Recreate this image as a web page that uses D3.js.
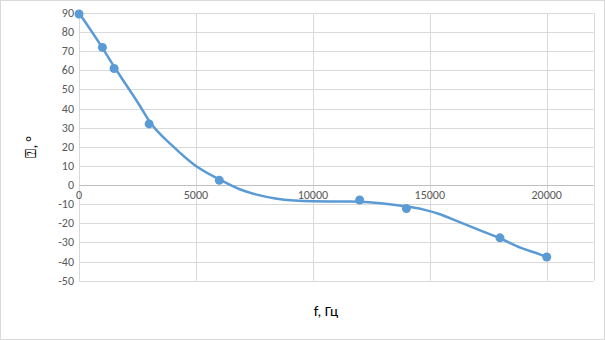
<!DOCTYPE html>
<html>
<head>
<meta charset="utf-8">
<script src="https://cdn.jsdelivr.net/npm/d3@7"></script>
<style>
  body { margin: 0; background: #fff; }
  svg { display: block; font-family: Calibri, Carlito, "Open Sans", sans-serif; }
</style>
</head>
<body>
<svg id="chart" width="605" height="340"></svg>
<script>
const freq  = [0, 1000, 1500, 3000, 6000, 12000, 14000, 18000, 20000];
const phase = [89.5, 72, 61, 32, 2.5, -7.8, -12.3, -27.6, -37.6];

// trend curve
const trendFreq  = [0, 1000, 1500, 2600, 3000, 4000, 5000, 6000, 6900, 7600, 8400, 9200, 10000,
                    11500, 12000, 12900, 13700, 14700, 15400, 16200, 17100, 18000, 18900, 19700, 20000];
const trendPhase = [90, 71.8, 62, 41.5, 33.5, 20.5, 10, 3, -2.3, -5, -7, -8.1, -8.5,
                    -8.6, -8.7, -9.5, -10.7, -12.7, -15.1, -19, -23.4, -27.8, -32.8, -36.2, -37.6];

const xTicks = [0, 5000, 10000, 15000, 20000];
const yTicks = [90, 80, 70, 60, 50, 40, 30, 20, 10, 0, -10, -20, -30, -40, -50];

const svg = d3.select("#chart");
const W = +svg.attr("width"), H = +svg.attr("height");

// outer chart frame
svg.append("rect")
  .attr("x", 0.5).attr("y", 0.5)
  .attr("width", W - 1).attr("height", H - 1)
  .attr("fill", "#fff").attr("stroke", "#d9d9d9");

const x = d3.scaleLinear().domain([0, 22000]).range([79, 593.5]);
const y = d3.scaleLinear().domain([-50, 90]).range([280.7, 13]);

// horizontal grid
svg.append("g")
  .selectAll("line")
  .data(yTicks.filter(v => v !== 0))
  .join("line")
    .attr("x1", x(0)).attr("x2", x(22000))
    .attr("y1", d => Math.round(y(d)) + 0.5)
    .attr("y2", d => Math.round(y(d)) + 0.5)
    .attr("stroke", "#d9d9d9");

// vertical grid
svg.append("g")
  .selectAll("line")
  .data(xTicks.concat([22000]))
  .join("line")
    .attr("x1", d => Math.round(x(d)) + 0.5)
    .attr("x2", d => Math.round(x(d)) + 0.5)
    .attr("y1", y(90)).attr("y2", y(-50))
    .attr("stroke", "#d9d9d9");

// x axis line at zero
svg.append("line")
  .attr("x1", x(0)).attr("x2", x(22000))
  .attr("y1", Math.round(y(0)) + 0.5).attr("y2", Math.round(y(0)) + 0.5)
  .attr("stroke", "#bfbfbf");

// y tick labels
svg.append("g")
  .selectAll("text")
  .data(yTicks)
  .join("text")
    .attr("x", 74)
    .attr("y", d => y(d) + 4)
    .attr("text-anchor", "end")
    .attr("font-size", 12)
    .attr("fill", "#595959")
    .text(d => d);

// x tick labels
svg.append("g")
  .selectAll("text")
  .data(xTicks)
  .join("text")
    .attr("x", d => x(d))
    .attr("y", y(0) + 14)
    .attr("text-anchor", "middle")
    .attr("font-size", 12)
    .attr("fill", "#595959")
    .text(d => d);

// trend line
const trend = trendFreq.map((f, i) => [f, trendPhase[i]]);
svg.append("path")
  .datum(trend)
  .attr("fill", "none")
  .attr("stroke", "#5b9bd5")
  .attr("stroke-width", 2.5)
  .attr("stroke-linecap", "round")
  .attr("d", d3.line()
    .x(d => x(d[0]))
    .y(d => y(d[1]))
    .curve(d3.curveMonotoneX));

// markers
const pts = freq.map((f, i) => [f, phase[i]]);
svg.append("g")
  .selectAll("circle")
  .data(pts)
  .join("circle")
    .attr("cx", d => x(d[0]))
    .attr("cy", d => y(d[1]))
    .attr("r", 4.5)
    .attr("fill", "#5b9bd5");

// axis titles
svg.append("text")
  .attr("x", 326).attr("y", 316)
  .attr("text-anchor", "middle")
  .attr("font-size", 15)
  .attr("fill", "#000")
  .text("f, Гц");

svg.append("text")
  .attr("transform", "translate(36,147) rotate(-90)")
  .attr("text-anchor", "middle")
  .attr("font-size", 15)
  .attr("fill", "#000")
  .text("⍰, °");
</script>
</body>
</html>
